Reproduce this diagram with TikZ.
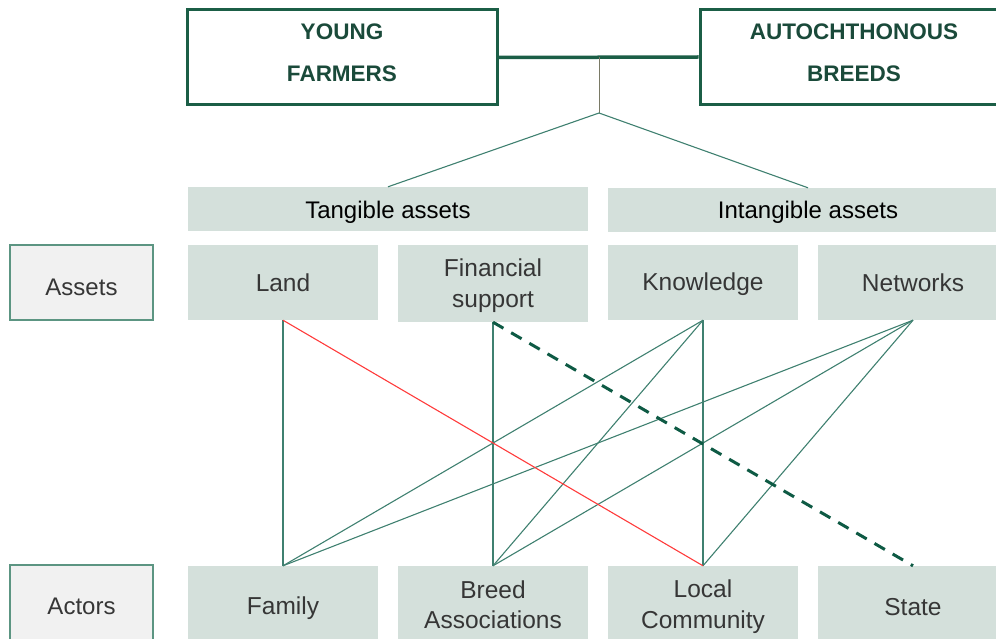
\documentclass[tikz,border=0pt]{standalone}
\usepackage{fontspec}
\setmainfont{Liberation Sans}
\definecolor{sage}{HTML}{D4E0DB}
\definecolor{pale}{HTML}{F1F1F1}
\definecolor{forest}{HTML}{1B5E46}
\definecolor{headtext}{HTML}{1A4A3A}
\definecolor{linkgreen}{HTML}{3F8070}
\definecolor{rimgreen}{HTML}{5C9582}
\definecolor{darkdash}{HTML}{0E5A44}
\definecolor{linkred}{HTML}{FF3B3B}
\definecolor{stem}{HTML}{7A7A66}
\definecolor{bodytext}{HTML}{363636}
\tikzset{
  headbox/.style={draw=forest, line width=3pt, fill=white, minimum width=310, minimum height=95,
    align=center, text=headtext, font=\fontsize{22.5}{42}\selectfont\bfseries},
  groupbox/.style={fill=sage, minimum width=400, minimum height=44, text=black,
    font=\fontsize{24}{28}\selectfont},
  cellbox/.style={fill=sage, minimum width=190, minimum height=75, align=center, text=bodytext,
    font=\fontsize{24.5}{30.5}\selectfont},
  rowlabel/.style={fill=pale, draw=rimgreen, line width=1.3pt, minimum width=143, minimum height=75,
    text=bodytext, font=\fontsize{24}{28}\selectfont},
  link/.style={draw=linkgreen, line width=1.1pt},
  redlink/.style={draw=linkred, line width=1.1pt},
  dashlink/.style={draw=darkdash, line width=3pt, dash pattern=on 12pt off 9pt},
}
% a strut of zero width that deepens the last line
\newcommand{\deepen}[1]{\rule[-#1]{0pt}{#1}}
% a strut of zero width that sets a line a little lower in its box
\newcommand{\dropby}[1]{\rule{0pt}{\dimexpr 18pt+2\dimexpr #1\relax\relax}}
\begin{document}
\begin{tikzpicture}[x=1pt,y=-1pt]
\useasboundingbox (0,0) rectangle (996,639);
\clip (0,0) rectangle (996,639);

% headline boxes
\node[headbox] (yf) at (342,57.5) {YOUNG\\FARMERS\deepen{9pt}};
\node[headbox, minimum width=308] (ab) at (854,57) {AUTOCHTHONOUS\\BREEDS\deepen{9pt}};
\draw[forest, line width=3.5pt] (yf.east) -- (ab.west);
\coordinate (join) at (599,57);
\coordinate (split) at (599,113);
\draw[stem, line width=1pt] (join) -- (split);

% asset groups
\node[groupbox] (tang) at (388,209) {\dropby{2.5pt}Tangible assets};
\node[groupbox] (intang) at (808,210) {\dropby{2pt}Intangible assets};
\draw[link] (split) -- (tang.north);
\draw[link] (split) -- (intang.north);

% asset row
\node[rowlabel] (assets) at (81.5,282.5) {\dropby{4pt}Assets};
\node[cellbox] (land) at (283,282.5) {Land};
\node[cellbox, minimum height=77] (fin) at (493,283.5) {\dropby{2pt}Financial\\support};
\node[cellbox] (know) at (703,282.5) {\dropby{2pt}Knowledge};
\node[cellbox] (net) at (913,282.5) {Networks};

% actor row
\node[rowlabel] (actors) at (81.5,602.5) {\dropby{3pt}Actors};
\node[cellbox] (fam) at (283,603.5) {\dropby{5pt}Family};
\node[cellbox] (breed) at (493,603.5) {\dropby{1pt}Breed\\Associations};
\node[cellbox] (local) at (703,603.5) {\dropby{3pt}Local\\Community};
\node[cellbox] (state) at (913,603.5) {\dropby{3pt}State};

% links between assets and actors
\draw[link] (land.south) -- (fam.north);
\draw[link] (fin.south) -- (breed.north);
\draw[link] (know.south) -- (fam.north);
\draw[link] (know.south) -- (breed.north);
\draw[link] (know.south) -- (local.north);
\draw[link] (net.south) -- (fam.north);
\draw[link] (net.south) -- (breed.north);
\draw[link] (net.south) -- (local.north);
\draw[redlink] (land.south) -- (local.north);
\draw[dashlink] (fin.south) -- (state.north);
\end{tikzpicture}
\end{document}
